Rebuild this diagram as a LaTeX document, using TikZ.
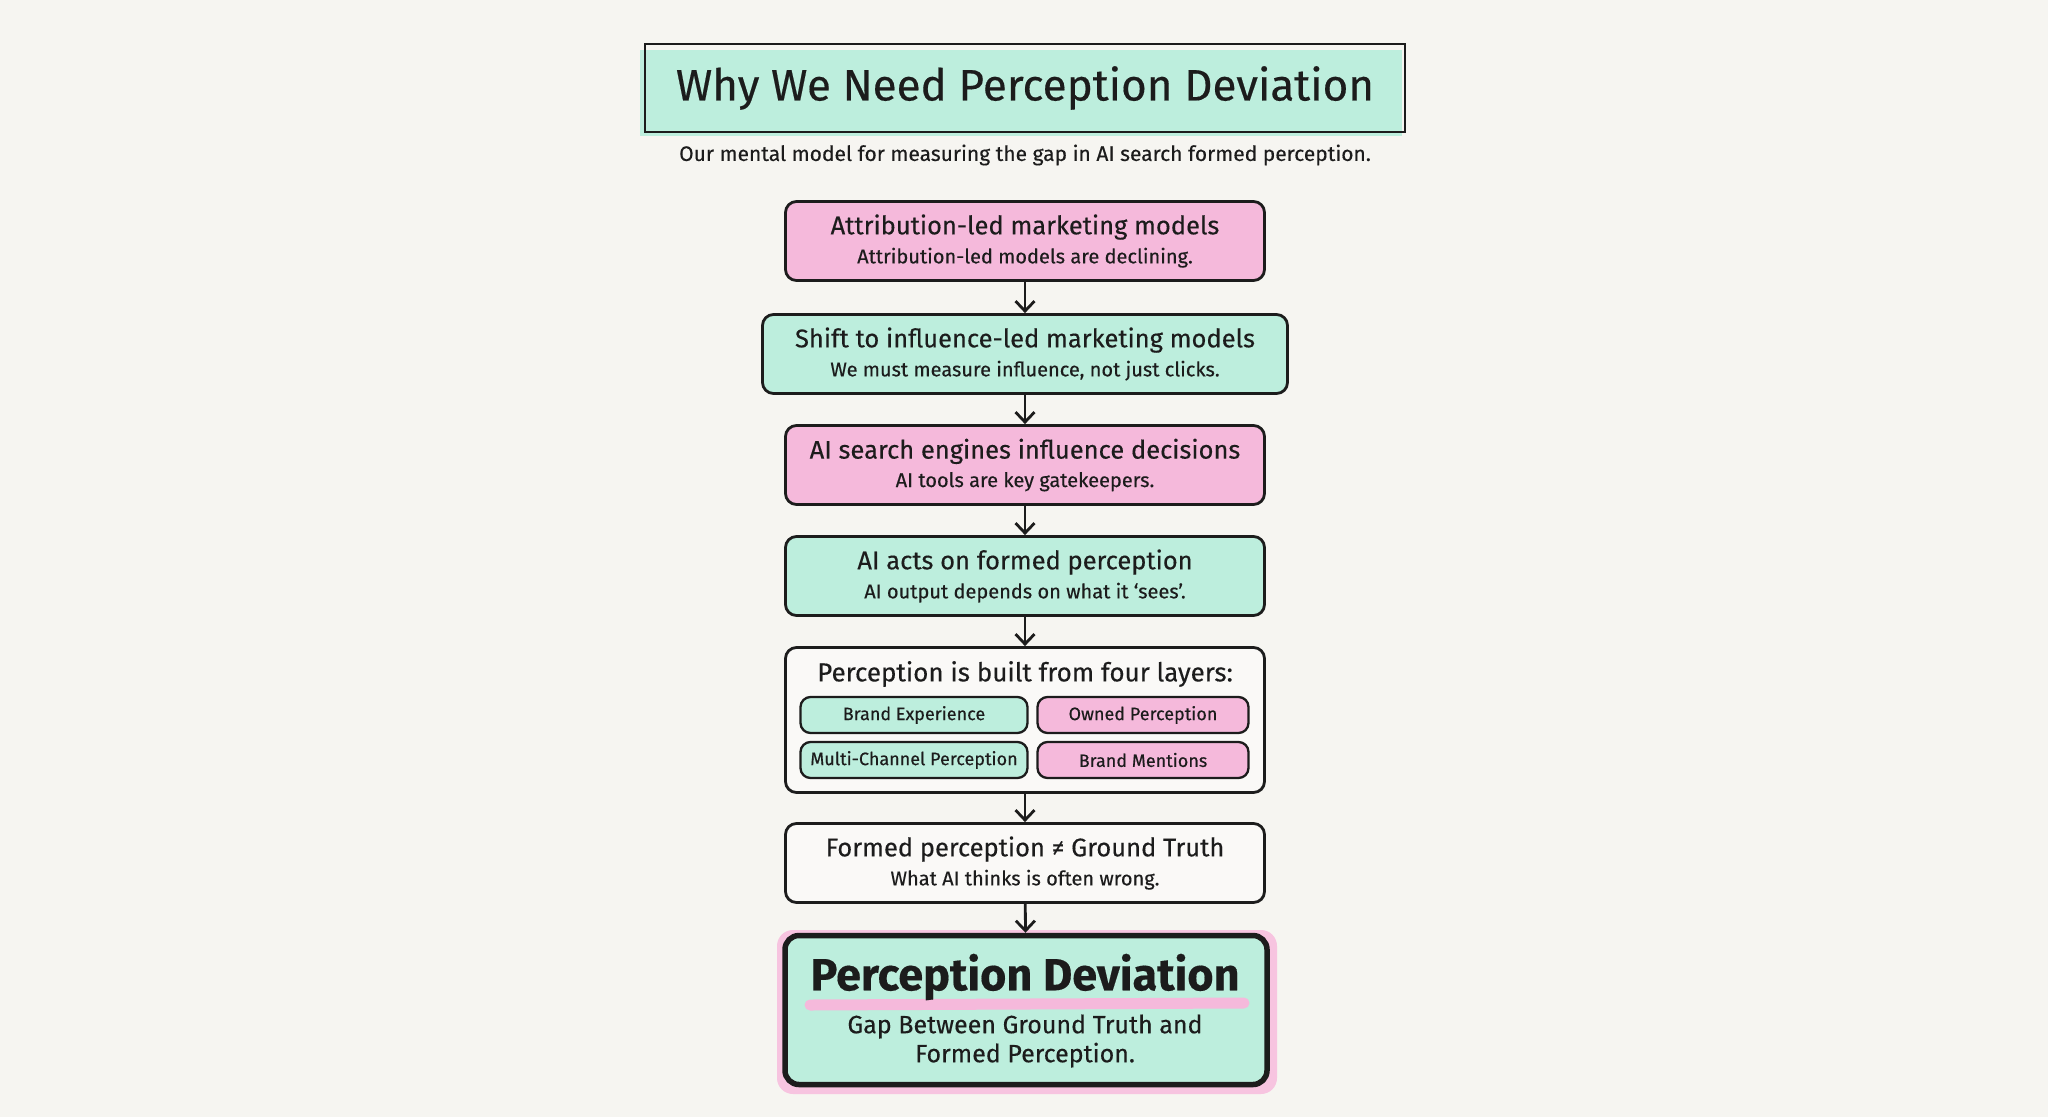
\documentclass[tikz,border=0pt]{standalone}
\usepackage{fontspec}
\setmainfont{Fira Sans}[FakeBold=0.35]
\usetikzlibrary{arrows.meta,positioning}
\definecolor{paper}{HTML}{F6F5F1}
\definecolor{mint}{HTML}{BDEEDD}
\definecolor{blush}{HTML}{F5B9DB}
\definecolor{ink}{HTML}{1C1C1C}

\newcommand{\steptext}[2]{{\fontsize{25.5}{28}\selectfont #1}\\[7pt]{\fontsize{20}{22}\selectfont #2}}

\tikzset{
  stepbox/.style={draw=ink, line width=2.8pt, rounded corners=11pt, minimum width=479pt,
    minimum height=79pt, align=center, inner sep=0pt, text=ink},
  layerbox/.style={draw=ink, line width=2.3pt, rounded corners=10pt, minimum height=36pt,
    inner sep=0pt, font=\fontsize{18}{20}\selectfont, text=ink},
  flowarrow/.style={draw=ink, line width=2.8pt, -{Straight Barb[length=10pt,width=19pt]}},
}

\begin{document}
\begin{tikzpicture}[x=1pt,y=-1pt]
\useasboundingbox[fill=paper] (0,0) rectangle (2048,1117);

% title
\fill[mint] (640,50) rectangle (1402,136);
\node[draw=ink, line width=2.8pt, minimum width=760pt, minimum height=88pt, inner sep=0pt,
  font=\fontsize{44}{48}\selectfont, text=ink] (title) at (1025,88) {Why We Need Perception Deviation};
\node[font=\fontsize{21}{24}\selectfont, text=ink] (subtitle) at (1025,155)
  {Our mental model for measuring the gap in AI search formed perception.};

% chain of steps
\node[stepbox, fill=blush] (attr) at (1025,241)
  {\steptext{Attribution-led marketing models}{Attribution-led models are declining.}};
\node[stepbox, fill=mint, minimum width=525pt] (shift) at (1025,354)
  {\steptext{Shift to influence-led marketing models}{We must measure influence, not just clicks.}};
\node[stepbox, fill=blush] (search) at (1025,465)
  {\steptext{AI search engines influence decisions}{AI tools are key gatekeepers.}};
\node[stepbox, fill=mint] (acts) at (1025,576)
  {\steptext{AI acts on formed perception}{AI output depends on what it `sees'.}};
\node[stepbox, fill=white!40!paper, minimum height=145pt] (layers) at (1025,720) {};
\node[font=\fontsize{26}{28}\selectfont, text=ink] (layerhead) at (1025,674)
  {Perception is built from four layers:};
\node[layerbox, fill=mint, minimum width=227pt] (brandexp) at (914,715) {Brand Experience};
\node[layerbox, fill=blush, minimum width=211pt] (owned) at (1143,715) {Owned Perception};
\node[layerbox, fill=mint, minimum width=227pt] (multi) at (914,760) {Multi-Channel Perception};
\node[layerbox, fill=blush, minimum width=211pt] (mentions) at (1143,760) {Brand Mentions};
\node[stepbox, fill=white!40!paper] (truth) at (1025,863)
  {\steptext{Formed perception ≠ Ground Truth}{What AI thinks is often wrong.}};

% result
\fill[blush!85, rounded corners=16pt] (777,930) rectangle (1277,1094);
\node[draw=ink, fill=mint, line width=5.5pt, rounded corners=14pt, minimum width=482pt,
  minimum height=149pt, inner sep=0pt] (deviation) at (1026,1010) {};
\draw[blush, line width=11pt, line cap=round] (810,1005) -- (1244,1003);
\node[font=\fontsize{45}{48}\selectfont\bfseries, text=ink] (devtitle) at (1025,977) {Perception Deviation};
\node[font=\fontsize{25}{29}\selectfont, text=ink, align=center] (devtext) at (1025,1041)
  {Gap Between Ground Truth and\\Formed Perception.};

\draw[flowarrow] (attr) -- (shift);
\draw[flowarrow] (shift) -- (search);
\draw[flowarrow] (search) -- (acts);
\draw[flowarrow] (acts) -- (layers);
\draw[flowarrow] (layers) -- (truth);
\draw[flowarrow] (truth) -- (deviation);
\end{tikzpicture}
\end{document}
